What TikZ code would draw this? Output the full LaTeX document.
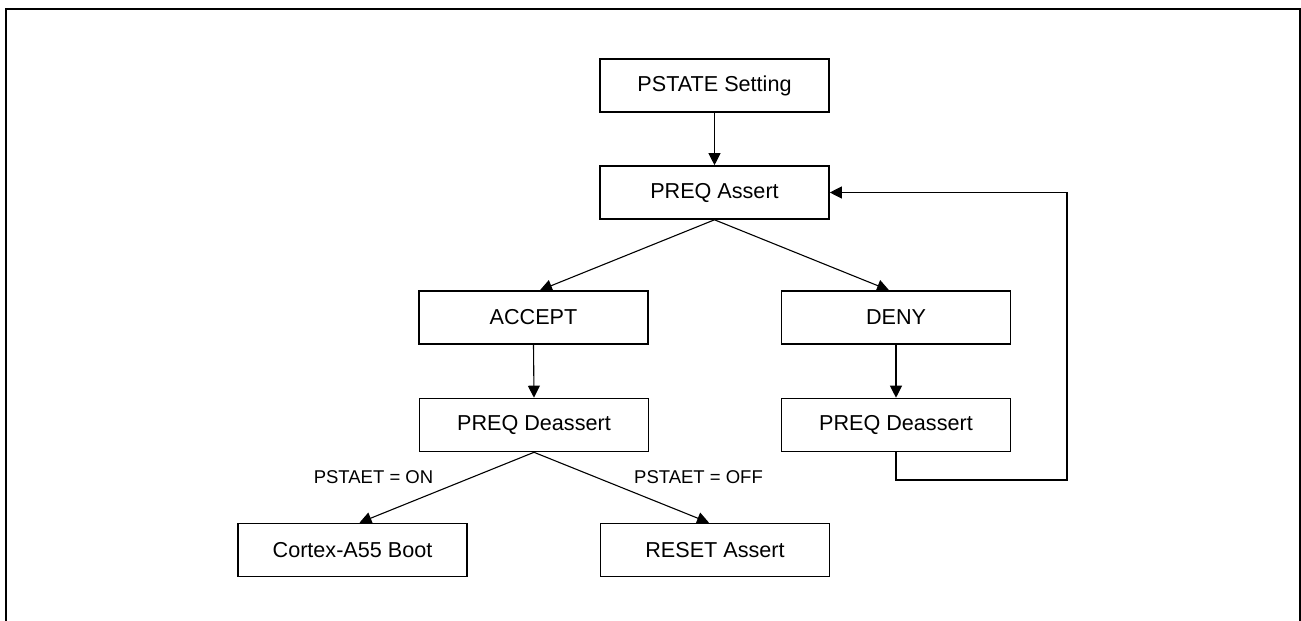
\documentclass[tikz,border=0pt]{standalone}
\usepackage{fontspec}
\setmainfont{Liberation Sans}
\usetikzlibrary{arrows.meta,calc}
\tikzset{
  box/.style={draw, line width=1.6pt, minimum width=229pt, minimum height=53pt, inner sep=0pt, font=\fontsize{21.6}{24}\selectfont},
  arr/.style={line width=1.1pt, -{Triangle[length=12pt,width=12pt]}},
  lbl/.style={inner sep=0pt, font=\fontsize{18.5}{21}\selectfont},
  frame/.style={line width=2.2pt}
}
\begin{document}
\begin{tikzpicture}[x=1pt,y=-1pt]
\useasboundingbox (0,0) rectangle (1301,621);
\draw[frame] (6,9) rectangle (1300,660);
\node[box] (pset) at (714.5,85.5) {PSTATE Setting};
\node[box] (passert) at (714.5,192.5) {PREQ Assert};
\node[box] (accept) at (533.5,317.5) {ACCEPT};
\node[box] (deny) at (896,317.5) {DENY};
\node[box] (pdl) at (534,425) {PREQ Deassert};
\node[box] (pdr) at (896,425) {PREQ Deassert};
\node[box] (boot) at (352.5,550) {Cortex-A55 Boot};
\node[box] (reset) at (715,550) {RESET Assert};
\node[lbl] (lon) at (373.5,477) {PSTAET = ON};
\node[lbl] (loff) at (698.5,477) {PSTAET = OFF};
\coordinate (fb) at (1067,480);
\draw[arr] (pset.south) -- (passert.north);
\draw[arr] (passert.south) -- ($(accept.north)+(6.5,0)$);
\draw[arr] (passert.south) -- ($(deny.north)+(-7,0)$);
\draw[arr] (accept.south) -- (pdl.north);
\draw[arr] (deny.south) -- (pdr.north);
\draw[arr] (pdl.south) -- ($(boot.north)+(7,0)$);
\draw[arr] (pdl.south) -- ($(reset.north)+(-6,0)$);
\draw[arr] (pdr.south) |- (fb) |- (passert.east);
\end{tikzpicture}
\end{document}
